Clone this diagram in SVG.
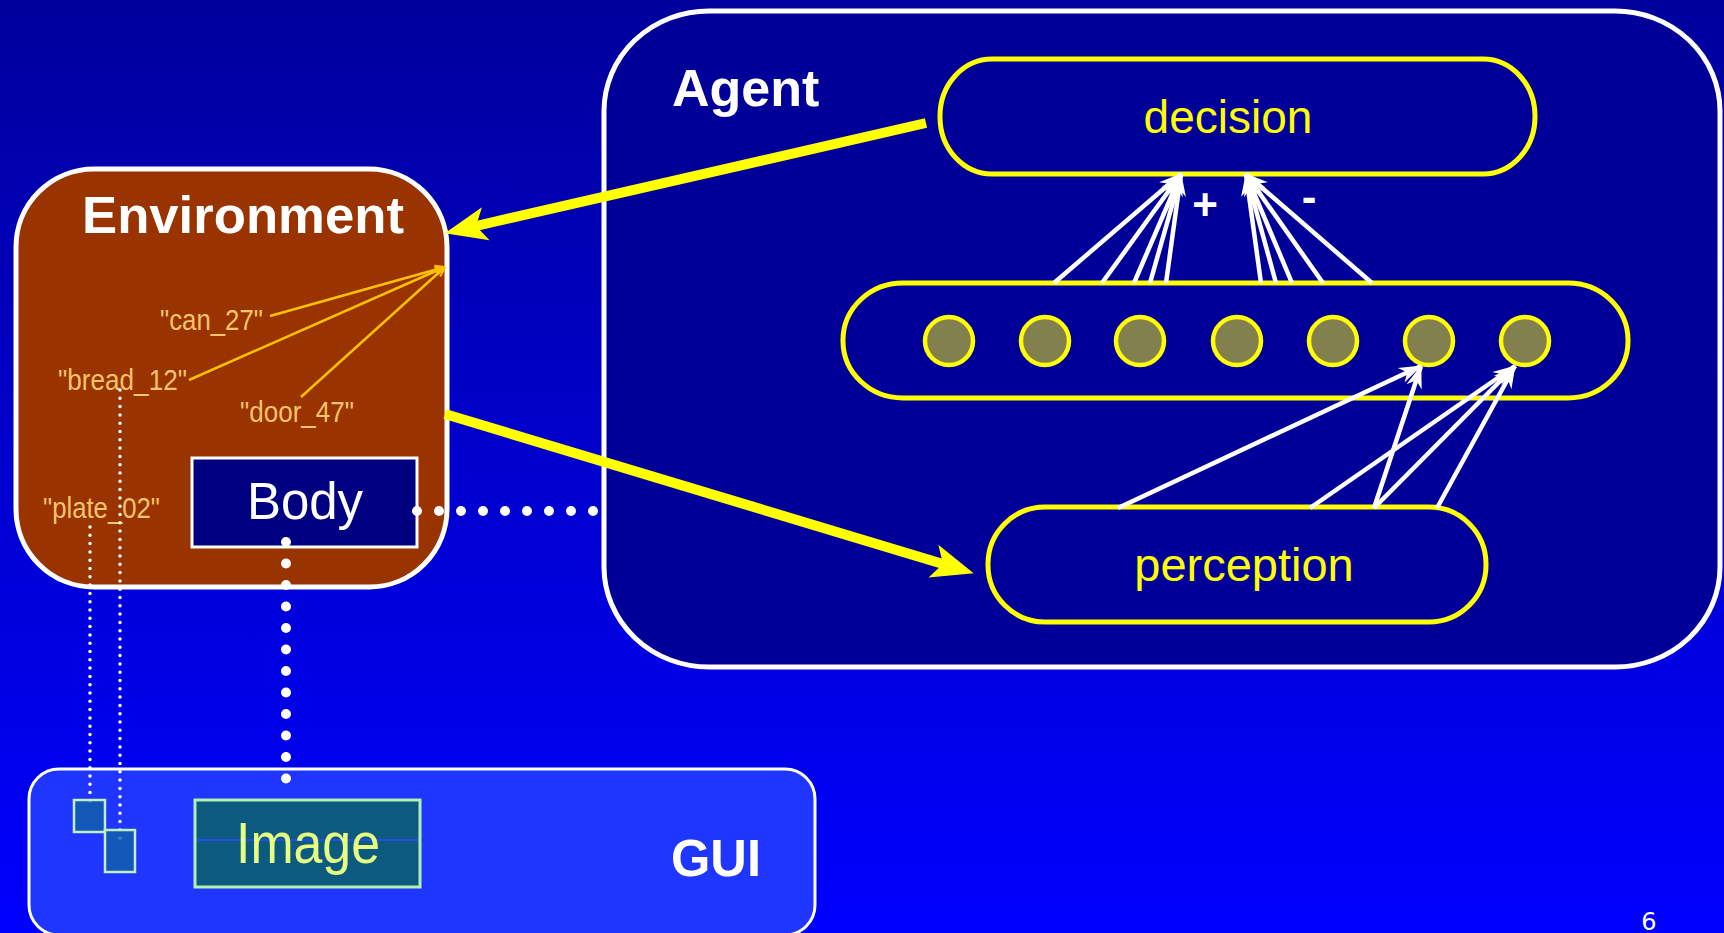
<svg xmlns="http://www.w3.org/2000/svg" width="1724" height="933" viewBox="0 0 1724 933">
<defs>
<linearGradient id="bg" x1="0" y1="0" x2="0" y2="1">
<stop offset="0" stop-color="#00009c"/>
<stop offset="1" stop-color="#0000ff"/>
</linearGradient>
<marker id="bigArrow" markerUnits="userSpaceOnUse" viewBox="-12 -20 46 40" refX="0" refY="0" markerWidth="46" markerHeight="40" orient="auto">
<path d="M32,0 L-10,-17 L0,0 L-10,17 Z" fill="#ffff00"/>
</marker>
<marker id="whiteArrow" markerUnits="userSpaceOnUse" viewBox="-24 -10 26 20" refX="0" refY="0" markerWidth="26" markerHeight="20" orient="auto">
<path d="M1,0 L-22,-8 L-15,0 L-22,8 Z" fill="#ffffff"/>
</marker>
<marker id="smallArrow" markerUnits="userSpaceOnUse" viewBox="-12 -6 14 12" refX="0" refY="0" markerWidth="14" markerHeight="12" orient="auto">
<path d="M0,0 L-10,-4 M0,0 L-10,4" stroke="#ffc000" stroke-width="2" fill="none"/>
</marker>
</defs>
<style>
.stadium { fill: #000099; stroke: #ffff00; stroke-width: 5; }
.neuron { fill: #83804f; stroke: #ffff00; stroke-width: 4.5; }
.title { font-family: "Liberation Sans", Arial, sans-serif; font-weight: bold; fill: #ffffff; }
.yl { font-family: "Liberation Sans", Arial, sans-serif; fill: #ffff00; text-anchor: middle; }
.lbl { font-family: "Liberation Sans", Arial, sans-serif; fill: #f5c36b; font-size: 30px; }
.wline { stroke: #ffffff; stroke-width: 4.5; fill: none; marker-end: url(#whiteArrow); }
.oline { stroke: #ffc000; stroke-width: 2.5; fill: none; marker-end: url(#smallArrow); }
.yarrow { stroke: #ffff00; stroke-width: 10; fill: none; marker-end: url(#bigArrow); }
.bigdots { stroke: #ffffff; stroke-width: 10; stroke-linecap: round; fill: none; }
.smalldots { stroke: #ffffff; stroke-width: 3.5; stroke-linecap: round; stroke-dasharray: 0 8.3; fill: none; }
</style>
<rect x="0" y="0" width="1724" height="933" fill="url(#bg)"/>

<g id="agent">
<rect x="604" y="11" width="1116" height="656" rx="105" ry="100" fill="#000099" stroke="#ffffff" stroke-width="5"/>
<text class="title" x="672" y="106" font-size="52">Agent</text>
</g>

<g id="decision">
<rect class="stadium" x="940" y="59" width="595" height="115" rx="52" ry="57"/>
<text class="yl" x="1228" y="133" font-size="46">decision</text>
</g>

<g id="hidden-layer">
<rect class="stadium" x="843" y="283" width="785" height="115" rx="60" ry="57"/>
<circle class="neuron" cx="949" cy="341" r="24"/>
<circle class="neuron" cx="1045" cy="341" r="24"/>
<circle class="neuron" cx="1140" cy="341" r="24"/>
<circle class="neuron" cx="1237" cy="341" r="24"/>
<circle class="neuron" cx="1333" cy="341" r="24"/>
<circle class="neuron" cx="1429" cy="341" r="24"/>
<circle class="neuron" cx="1525" cy="341" r="24"/>
</g>

<g id="perception">
<rect class="stadium" x="988" y="507" width="498" height="115" rx="57" ry="57"/>
<text class="yl" x="1244" y="581" font-size="47">perception</text>
</g>

<g id="gui">
<rect x="29" y="769" width="786" height="166" rx="30" ry="30" fill="#1e36ff" stroke="#ffffff" stroke-width="3"/>
<text class="title" x="671" y="876" font-size="52" textLength="90" lengthAdjust="spacingAndGlyphs">GUI</text>
</g>

<g id="environment">
<rect x="16" y="169" width="431" height="418" rx="78" ry="78" fill="#993300" stroke="#ffffff" stroke-width="5"/>
<text class="title" x="82" y="233" font-size="52" textLength="322" lengthAdjust="spacingAndGlyphs">Environment</text>
<text class="lbl" x="160" y="330" textLength="103" lengthAdjust="spacingAndGlyphs">&quot;can_27&quot;</text>
<text class="lbl" x="58" y="390" textLength="129" lengthAdjust="spacingAndGlyphs">&quot;bread_12&quot;</text>
<text class="lbl" x="240" y="422" textLength="114" lengthAdjust="spacingAndGlyphs">&quot;door_47&quot;</text>
<text class="lbl" x="43" y="518" textLength="117" lengthAdjust="spacingAndGlyphs">&quot;plate_02&quot;</text>
</g>

<g id="body">
<rect x="192" y="458" width="225" height="89" fill="#000080" stroke="#ffffff" stroke-width="3"/>
<text x="305" y="519" font-family="Liberation Sans, Arial, sans-serif" font-size="51" fill="#ffffff" text-anchor="middle">Body</text>
</g>

<g id="connectors">
<line class="yarrow" x1="926" y1="123" x2="476" y2="226"/>
<line class="yarrow" x1="445" y1="414" x2="943" y2="564"/>
<line class="oline" x1="270" y1="316" x2="445" y2="267"/>
<line class="oline" x1="189" y1="380" x2="445" y2="267"/>
<line class="oline" x1="301" y1="397" x2="445" y2="267"/>
<line class="wline" x1="1054" y1="283" x2="1181" y2="174"/>
<line class="wline" x1="1102" y1="283" x2="1181" y2="174"/>
<line class="wline" x1="1134" y1="283" x2="1181" y2="174"/>
<line class="wline" x1="1150" y1="283" x2="1181" y2="174"/>
<line class="wline" x1="1166" y1="283" x2="1181" y2="174"/>
<line class="wline" x1="1261" y1="283" x2="1246" y2="174"/>
<line class="wline" x1="1276" y1="283" x2="1246" y2="174"/>
<line class="wline" x1="1292" y1="283" x2="1246" y2="174"/>
<line class="wline" x1="1323" y1="283" x2="1246" y2="174"/>
<line class="wline" x1="1372" y1="283" x2="1246" y2="174"/>
<line class="wline" x1="1118" y1="508" x2="1421" y2="366"/>
<line class="wline" x1="1374" y1="508" x2="1421" y2="366"/>
<line class="wline" x1="1310" y1="508" x2="1515" y2="366"/>
<line class="wline" x1="1374" y1="508" x2="1515" y2="366"/>
<line class="wline" x1="1437" y1="508" x2="1515" y2="366"/>
<line class="bigdots" x1="417" y1="511" x2="594" y2="511" stroke-dasharray="0 22"/>
<line class="bigdots" x1="286" y1="542" x2="286" y2="800" stroke-dasharray="0 21.5"/>
<line class="smalldots" x1="120" y1="390" x2="120" y2="840"/>
<line class="smalldots" x1="90" y1="527" x2="90" y2="808"/>
</g>
<text x="1205" y="220" font-family="Liberation Sans, Arial, sans-serif" font-weight="bold" font-size="44" fill="#ffffff" text-anchor="middle">+</text>
<text x="1309" y="212" font-family="Liberation Sans, Arial, sans-serif" font-weight="bold" font-size="44" fill="#ffffff" text-anchor="middle">-</text>

<g id="gui-items">
<rect x="74" y="800" width="31" height="32" fill="#1060a8" fill-opacity="0.8" stroke="#c0f0c0" stroke-width="2.5"/>
<rect x="105" y="830" width="30" height="42" fill="#1060a8" fill-opacity="0.8" stroke="#c0f0c0" stroke-width="2.5"/>
</g>

<g id="image">
<rect x="195" y="800" width="225" height="87" fill="#0d5a80" stroke="#b0f0b0" stroke-width="3"/>
<line x1="197" y1="840" x2="418" y2="840" stroke="#2a4cff" stroke-width="1.5"/>
<text x="236" y="863" font-family="Liberation Sans, Arial, sans-serif" font-size="57" fill="#e6ff80" textLength="144" lengthAdjust="spacingAndGlyphs">Image</text>
</g>

<text x="1649" y="930" font-family="DejaVu Sans, sans-serif" font-size="24" fill="#ffffff" text-anchor="middle">6</text>
</svg>
